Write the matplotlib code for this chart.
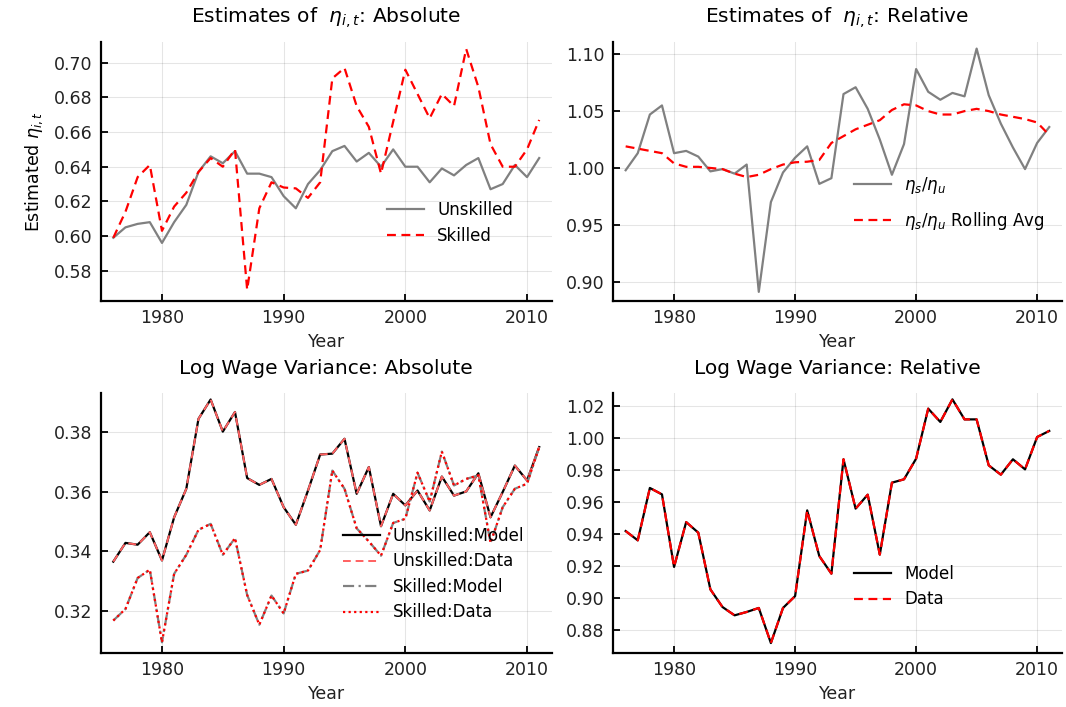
import matplotlib
matplotlib.use("Agg")
import matplotlib.pyplot as plt
import numpy as np

years = np.arange(1976, 2012)

# estimated eta, absolute
eta_unskilled = [0.599, 0.605, 0.607, 0.608, 0.596, 0.608, 0.618, 0.637, 0.646, 0.642,
                 0.649, 0.636, 0.636, 0.634, 0.623, 0.616, 0.630, 0.638, 0.649, 0.652,
                 0.643, 0.648, 0.640, 0.650, 0.640, 0.640, 0.631, 0.639, 0.635, 0.641,
                 0.645, 0.627, 0.630, 0.641, 0.634, 0.645]
eta_skilled = [0.599, 0.614, 0.634, 0.641, 0.603, 0.617, 0.625, 0.637, 0.645, 0.640,
               0.650, 0.569, 0.616, 0.631, 0.628, 0.6275, 0.622, 0.631, 0.691, 0.697,
               0.675, 0.663, 0.636, 0.666, 0.696, 0.682, 0.668, 0.682, 0.675, 0.708,
               0.686, 0.653, 0.640, 0.640, 0.650, 0.667]

# estimated eta, relative
eta_ratio = [0.998, 1.013, 1.047, 1.055, 1.013, 1.015, 1.010, 0.997, 0.999, 0.995,
             1.003, 0.891, 0.970, 0.996, 1.009, 1.019, 0.986, 0.991, 1.065, 1.071,
             1.052, 1.025, 0.994, 1.021, 1.087, 1.067, 1.060, 1.066, 1.063, 1.105,
             1.064, 1.039, 1.018, 0.999, 1.022, 1.036]
eta_ratio_avg = [1.019, 1.017, 1.015, 1.013, 1.004, 1.001, 1.001, 1.000, 0.999, 0.995,
                 0.992, 0.994, 0.999, 1.003, 1.005, 1.0055, 1.007, 1.022, 1.028, 1.034,
                 1.038, 1.042, 1.051, 1.056, 1.055, 1.050, 1.047, 1.047, 1.050, 1.052,
                 1.050, 1.047, 1.045, 1.043, 1.040, 1.029]

# log wage variance, absolute
var_unskilled_model = [0.3365, 0.3428, 0.3422, 0.3464, 0.3369, 0.3514, 0.3610, 0.3845, 0.3910, 0.3802,
                       0.3868, 0.3646, 0.3623, 0.3643, 0.3548, 0.3489, 0.3604, 0.3725, 0.3728, 0.3778,
                       0.3593, 0.3683, 0.3484, 0.3593, 0.3554, 0.3604, 0.3537, 0.3651, 0.3587, 0.3601,
                       0.3662, 0.3514, 0.3599, 0.3688, 0.3638, 0.3750]
var_skilled_model = [0.3167, 0.3206, 0.3310, 0.3338, 0.3094, 0.3324, 0.3388, 0.3472, 0.3492, 0.3388,
                     0.3444, 0.3253, 0.3153, 0.3251, 0.3191, 0.3324, 0.3335, 0.3404, 0.3671, 0.3610,
                     0.3477, 0.3433, 0.3385, 0.3495, 0.3509, 0.3664, 0.3567, 0.3735, 0.3621, 0.3643,
                     0.3655, 0.3428, 0.3548, 0.3610, 0.3627, 0.3750]
# data and model cannot be told apart in the picture
var_unskilled_data = list(var_unskilled_model)
var_skilled_data = list(var_skilled_model)

# log wage variance, relative
var_rel_model = [0.9417, 0.9359, 0.9686, 0.9646, 0.9193, 0.9473, 0.9407, 0.9053, 0.8943, 0.8891,
                 0.8912, 0.8937, 0.8718, 0.8937, 0.9011, 0.9546, 0.9261, 0.9151, 0.9865, 0.9557,
                 0.9644, 0.9270, 0.9719, 0.9740, 0.9869, 1.0181, 1.0098, 1.0239, 1.0114, 1.0114,
                 0.9827, 0.9769, 0.9865, 0.9802, 1.0004, 1.0042]
var_rel_data = list(var_rel_model)

plt.rcParams['font.family'] = ['DejaVu Sans']
plt.rcParams['mathtext.fontset'] = 'dejavusans'

fig = plt.figure(figsize=(10.66, 7.07), dpi=100)
ax1 = fig.add_axes([0.0943, 0.5743, 0.4235, 0.3663])
ax2 = fig.add_axes([0.5750, 0.5743, 0.4212, 0.3663])
ax3 = fig.add_axes([0.0943, 0.0764, 0.4235, 0.3678])
ax4 = fig.add_axes([0.5750, 0.0764, 0.4212, 0.3678])


def style(ax, ylim, yticks):
    ax.set_xlim(1974.95, 2012.05)
    ax.set_ylim(*ylim)
    ax.set_xticks([1980, 1990, 2000, 2010])
    ax.set_yticks(yticks)
    ax.grid(True, color='#000000', alpha=0.1, lw=0.8)
    ax.set_axisbelow(True)
    for s in ['top', 'right']:
        ax.spines[s].set_visible(False)
    for s in ['left', 'bottom']:
        ax.spines[s].set_linewidth(1.6)
    ax.tick_params(direction='in', length=5, width=1.3, labelsize=12.5,
                   labelcolor='#222222', pad=6)
    ax.set_xlabel("Year", fontsize=12.5, color='#222222', labelpad=4)


def legend(ax, x, y, spacing):
    ax.legend(loc='center left', bbox_to_anchor=(x, y), frameon=False, fontsize=12,
              handlelength=2.2, handletextpad=0.8, borderpad=0, borderaxespad=0,
              labelspacing=spacing)


ax1.plot(years, eta_unskilled, color='gray', lw=1.6, label="Unskilled")
ax1.plot(years, eta_skilled, color='red', lw=1.6, ls=(0, (4, 2.5)), label="Skilled")
style(ax1, (0.5625, 0.712), [0.58, 0.60, 0.62, 0.64, 0.66, 0.68, 0.70])
ax1.set_title(r"Estimates of  $\eta_{i,t}$: Absolute", fontsize=14.5, pad=14)
ax1.set_ylabel(r"Estimated $\eta_{i,t}$", fontsize=12.5, labelpad=6)
legend(ax1, 0.635, 0.301, 0.45)

ax2.plot(years, eta_ratio, color='gray', lw=1.6, label=r"$\eta_s/\eta_u$")
ax2.plot(years, eta_ratio_avg, color='red', lw=1.6, ls=(0, (4, 2.5)),
         label=r"$\eta_s/\eta_u$ Rolling Avg")
style(ax2, (0.883, 1.1108), [0.90, 0.95, 1.00, 1.05, 1.10])
ax2.yaxis.set_major_formatter(matplotlib.ticker.FormatStrFormatter('%.2f'))
ax2.set_title(r"Estimates of  $\eta_{i,t}$: Relative", fontsize=14.5, pad=14)
legend(ax2, 0.537, 0.377, 0.8)

ax3.plot(years, var_unskilled_model, color='black', lw=1.6, label="Unskilled:Model")
ax3.plot(years, var_unskilled_data, color='#ff6060', lw=1.4, ls=(0, (4, 2.5)),
         label="Unskilled:Data")
ax3.plot(years, var_skilled_model, color='gray', lw=1.6, ls=(0, (5, 2, 1, 2)),
         label="Skilled:Model")
ax3.plot(years, var_skilled_data, color='red', lw=1.6, ls=(0, (1, 1.5)),
         label="Skilled:Data")
style(ax3, (0.3058, 0.3932), [0.32, 0.34, 0.36, 0.38])
ax3.set_title("Log Wage Variance: Absolute", fontsize=14.5, pad=14)
legend(ax3, 0.537, 0.303, 0.45)

ax4.plot(years, var_rel_model, color='black', lw=1.6, label="Model")
ax4.plot(years, var_rel_data, color='red', lw=1.6, ls=(0, (4, 2.5)), label="Data")
style(ax4, (0.8656, 1.0279), [0.88, 0.90, 0.92, 0.94, 0.96, 0.98, 1.00, 1.02])
ax4.set_title("Log Wage Variance: Relative", fontsize=14.5, pad=14)
legend(ax4, 0.537, 0.255, 0.45)

fig.savefig("out.png", dpi=100)
